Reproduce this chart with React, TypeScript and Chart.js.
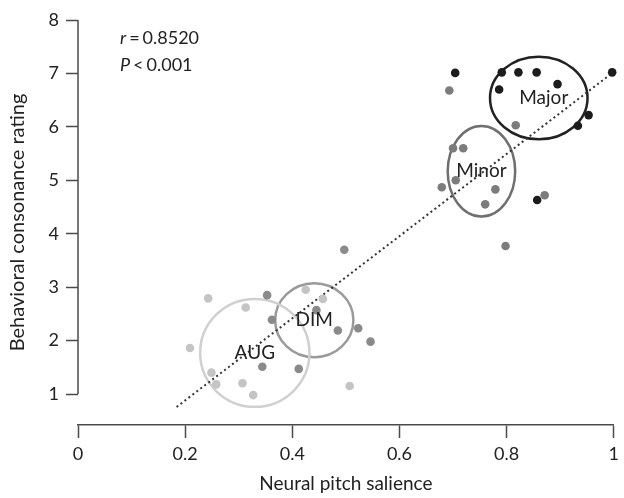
import React, { useEffect, useRef } from "react";
import { Chart, registerables } from "chart.js";

Chart.register(...registerables);

const xTickValues = [0, 0.2, 0.4, 0.6, 0.8, 1];
const xTickLabels = ["0", "0.2", "0.4", "0.6", "0.8", "1"];
const yTickValues = [1, 2, 3, 4, 5, 6, 7, 8];
const yTickLabels = ["1", "2", "3", "4", "5", "6", "7", "8"];

const majorX = [0.704, 0.791, 0.822, 0.856, 0.895, 0.786, 0.997, 0.953, 0.933, 0.857];
const majorY = [7.01, 7.02, 7.02, 7.02, 6.8, 6.7, 7.02, 6.22, 6.02, 4.63];

const minorX = [0.693, 0.817, 0.871, 0.7, 0.719, 0.679, 0.705, 0.779, 0.76, 0.798];
const minorY = [6.68, 6.03, 4.72, 5.6, 5.6, 4.87, 5.0, 4.83, 4.55, 3.77];

const dimX = [0.497, 0.353, 0.362, 0.445, 0.485, 0.523, 0.546, 0.344, 0.412];
const dimY = [3.7, 2.85, 2.39, 2.57, 2.19, 2.23, 1.98, 1.51, 1.47];

const augX = [0.243, 0.313, 0.425, 0.457, 0.209, 0.249, 0.258, 0.307, 0.327, 0.507];
const augY = [2.79, 2.62, 2.95, 2.78, 1.86, 1.4, 1.18, 1.2, 0.98, 1.15];

const fitX = [0.184, 1.0];
const fitY = [0.757, 7.03];

const groupLabels = ["Major", "Minor", "DIM", "AUG"];
const groupCx = [0.86, 0.753, 0.441, 0.33];
const groupCy = [6.54, 5.17, 2.38, 1.77];
const groupRx = [0.091, 0.063, 0.073, 0.102];
const groupRy = [0.773, 0.848, 0.693, 1.01];
const groupColors = ["#222222", "#6f6f6f", "#9a9a9a", "#d0d0d0"];

const statR = "0.8520";
const statP = "0.001";

const FONT = "Lato, 'Open Sans', sans-serif";

const zip = (xs: number[], ys: number[]) => xs.map((x, i) => ({ x, y: ys[i] }));

const overlayPlugin = {
  id: "overlay",
  beforeDatasetsDraw(chart: any) {
    const { ctx, scales } = chart;
    const xs = scales.x;
    const ys = scales.y;
    ctx.save();
    for (let i = 0; i < groupLabels.length; i++) {
      const cx = xs.getPixelForValue(groupCx[i]);
      const cy = ys.getPixelForValue(groupCy[i]);
      const rx = Math.abs(xs.getPixelForValue(groupCx[i] + groupRx[i]) - cx);
      const ry = Math.abs(ys.getPixelForValue(groupCy[i] + groupRy[i]) - cy);
      ctx.beginPath();
      ctx.ellipse(cx, cy, rx, ry, 0, 0, Math.PI * 2);
      ctx.strokeStyle = groupColors[i];
      ctx.lineWidth = 2.5;
      ctx.stroke();
    }
    ctx.restore();
  },
  afterDatasetsDraw(chart: any) {
    const { ctx, scales, chartArea } = chart;
    const xs = scales.x;
    const ys = scales.y;
    ctx.save();
    ctx.fillStyle = "#222";
    ctx.textAlign = "center";
    ctx.textBaseline = "middle";
    ctx.font = `19px ${FONT}`;
    for (let i = 0; i < groupLabels.length; i++) {
      const cx = xs.getPixelForValue(groupCx[i]) + (i === 0 ? 5 : 0);
      const cy = ys.getPixelForValue(groupCy[i]);
      ctx.fillText(groupLabels[i], cx, cy);
    }
    // y axis line from 1 to 8
    ctx.beginPath();
    ctx.strokeStyle = "#4a4a4a";
    ctx.lineWidth = 1.5;
    ctx.moveTo(chartArea.left, ys.getPixelForValue(yTickValues[0]));
    ctx.lineTo(chartArea.left, ys.getPixelForValue(yTickValues[yTickValues.length - 1]));
    ctx.stroke();

    // stats text
    const drawLine = (italic: string, op: string, val: string, x: number, y: number) => {
      ctx.textAlign = "left";
      ctx.font = `italic 18px ${FONT}`;
      ctx.fillText(italic, x, y);
      let w = ctx.measureText(italic).width + 3;
      ctx.font = `18px ${FONT}`;
      ctx.fillText(op, x + w, y);
      w += ctx.measureText(op).width + 3;
      ctx.fillText(val, x + w, y);
    };
    const tx = chartArea.left + 42;
    drawLine("r", "=", statR, tx, 38);
    drawLine("P", "<", statP, tx, 65);
    ctx.restore();
  },
};

export default function App() {
  const canvasRef = useRef<HTMLCanvasElement | null>(null);

  useEffect(() => {
    const canvas = canvasRef.current;
    if (!canvas) return;
    const pointDs = (label: string, xs: number[], ys: number[], color: string) => ({
      type: "scatter" as const,
      label,
      data: zip(xs, ys),
      backgroundColor: color,
      borderColor: color,
      pointRadius: 4.3,
      pointBorderWidth: 0,
      clip: false as any,
    });
    const chart = new Chart(canvas, {
      type: "scatter",
      data: {
        datasets: [
          pointDs("AUG", augX, augY, "#c4c4c4"),
          pointDs("DIM", dimX, dimY, "#8a8a8a"),
          pointDs("Minor", minorX, minorY, "#7c7c7c"),
          pointDs("Major", majorX, majorY, "#1c1c1c"),
          {
            type: "line" as const,
            label: "fit",
            data: zip(fitX, fitY),
            borderColor: "#333",
            borderWidth: 2,
            borderDash: [2, 3],
            pointRadius: 0,
            fill: false,
          } as any,
        ],
      },
      options: {
        animation: false,
        responsive: false,
        layout: { padding: { top: 20, right: 2, left: 0, bottom: 0 } },
        plugins: { legend: { display: false }, tooltip: { enabled: false } },
        scales: {
          x: {
            type: "linear",
            min: 0,
            max: 1,
            afterBuildTicks: (s: any) => {
              s.ticks = xTickValues.map((v) => ({ value: v }));
            },
            afterFit: (s: any) => {
              s.height = 73;
            },
            ticks: {
              color: "#222",
              font: { family: FONT, size: 18 },
              padding: 5,
              maxRotation: 0,
              callback: (v: any) => {
                const i = xTickValues.findIndex((t) => Math.abs(t - v) < 1e-6);
                return i >= 0 ? xTickLabels[i] : "";
              },
            },
            grid: {
              drawOnChartArea: false,
              drawTicks: true,
              tickLength: 13,
              tickColor: "#4a4a4a",
              tickWidth: 1.5,
            },
            border: { display: true, color: "#4a4a4a", width: 1.5 },
            title: {
              display: true,
              text: "Neural pitch salience",
              color: "#222",
              font: { family: FONT, size: 19 },
              padding: { top: 0, bottom: 3 },
            },
          },
          y: {
            type: "linear",
            min: 0.42,
            max: 8,
            afterBuildTicks: (s: any) => {
              s.ticks = yTickValues.map((v) => ({ value: v }));
            },
            afterFit: (s: any) => {
              s.width = 78;
            },
            ticks: {
              color: "#222",
              font: { family: FONT, size: 18 },
              padding: 7,
              callback: (v: any) => {
                const i = yTickValues.findIndex((t) => Math.abs(t - v) < 1e-6);
                return i >= 0 ? yTickLabels[i] : "";
              },
            },
            grid: {
              drawOnChartArea: false,
              drawTicks: true,
              tickLength: 12,
              tickColor: "#4a4a4a",
              tickWidth: 1.5,
            },
            border: { display: false },
            title: {
              display: true,
              text: "Behavioral consonance rating",
              color: "#222",
              font: { family: FONT, size: 20 },
              padding: { top: 6, bottom: 0 },
            },
          },
        },
      },
      plugins: [overlayPlugin],
    } as any);
    return () => chart.destroy();
  }, []);

  return (
    <div style={{ position: "absolute", left: 0, top: 0, width: 624, height: 498, background: "#fff" }}>
      <canvas ref={canvasRef} width={624} height={498} style={{ display: "block" }} />
    </div>
  );
}
